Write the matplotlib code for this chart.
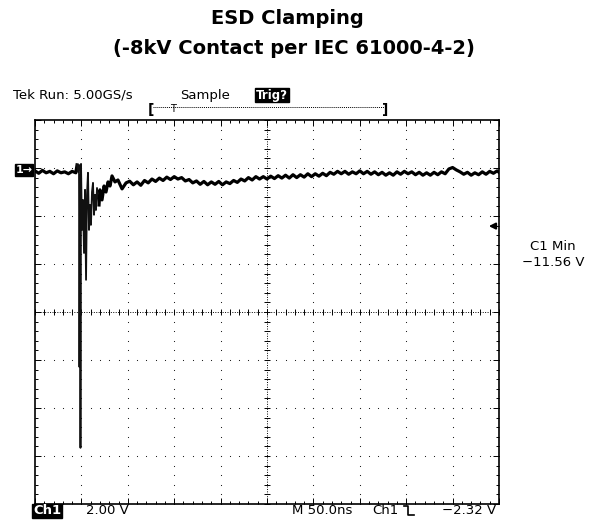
import numpy as np
import matplotlib
matplotlib.use('Agg')
import matplotlib.pyplot as plt
from matplotlib.lines import Line2D

plt.rcParams['font.family'] = ['DejaVu Sans']

# ============================================
# DATA
# ============================================
# Ch1 trace: time in ns (50 ns/div), voltage in V (2 V/div)
time_ns = [0, 4, 8, 12, 16, 20, 24, 28, 32, 36, 40, 44,
           45.3, 46.3, 47.4, 47.9, 48.5, 49.0, 49.6, 50.6, 51.7, 52.8, 53.9, 55.0,
           56.0, 57.1, 58.2, 59.3, 60.3, 61.4, 62.5, 63.6, 64.7, 65.7, 66.8,
           69.0, 70.0, 72.2, 74.4, 76.5, 78.7, 80.8, 83.0, 86.2, 89.4, 93.8, 98.1,
           102, 106, 110, 114, 118, 122, 126, 130, 134, 138, 142, 146, 150, 154,
           158, 162, 166, 170, 174, 178, 182, 186, 190, 194, 198, 202, 206, 210,
           214, 218, 222, 226, 230, 234, 238, 242, 246, 250, 254, 258, 262, 266,
           270, 274, 278, 282, 286, 290, 294, 298, 302, 306, 310, 314, 318, 322,
           326, 330, 334, 338, 342, 346, 350, 354, 358, 362, 366, 370, 374, 378,
           382, 386, 390, 394, 398, 402, 406, 410, 414, 418, 422, 426, 430, 434,
           438, 442, 446, 450, 454, 458, 462, 466, 470, 474, 478, 482, 486, 490,
           494, 498, 500]
volts = [-0.02, -0.12, 0.0, -0.10, -0.04, -0.14, -0.02, -0.10, -0.06, -0.14, -0.04, -0.10,
         0.23, -0.06, 0.23, -8.19, -0.19, -11.56, 0.27, -2.48, -1.23, -3.44, -0.81, -4.56,
         -1.02, -0.10, -2.48, -1.44, -2.27, -0.90, -0.52, -1.85, -1.02, -1.65, -0.73,
         -1.44, -0.81, -1.23, -0.65, -0.90, -0.48, -0.65, -0.23, -0.48, -0.40, -0.77, -0.52,
         -0.45, -0.60, -0.48, -0.62, -0.42, -0.52, -0.36, -0.46, -0.32, -0.42, -0.28, -0.38,
         -0.26, -0.36, -0.30, -0.44, -0.38, -0.52, -0.44, -0.58, -0.46, -0.60, -0.48, -0.58,
         -0.46, -0.60, -0.48, -0.55, -0.42, -0.50, -0.36, -0.44, -0.30, -0.40, -0.26, -0.36,
         -0.26, -0.36, -0.24, -0.34, -0.22, -0.32, -0.20, -0.32, -0.18, -0.30, -0.18, -0.28,
         -0.14, -0.26, -0.14, -0.24, -0.12, -0.22, -0.08, -0.16, -0.04, -0.14, -0.04, -0.16,
         -0.06, -0.14, -0.02, -0.14, -0.04, -0.16, -0.06, -0.18, -0.08, -0.20, -0.10, -0.20,
         -0.06, -0.16, -0.04, -0.14, -0.06, -0.18, -0.08, -0.20, -0.10, -0.20, -0.08, -0.18,
         -0.06, -0.14, 0.06, 0.12, 0.02, -0.06, -0.16, -0.08, -0.20, -0.10, -0.18, -0.06,
         -0.16, -0.04, -0.12, -0.02, -0.08]

trigger_level = -2.32   # V
c1_min = -11.56         # V
volts_per_div = 2.0
ns_per_div = 50.0

# screen: 10 x 8 divisions
y_top = 2.1
y_bottom = y_top - 8 * volts_per_div
x_right = 10 * ns_per_div

# ============================================
# FIGURE
# ============================================
W, H = 595, 520
fig = plt.figure(figsize=(W / 100, H / 100), dpi=100)
ax = fig.add_axes([35 / W, 1 - 504 / H, 464 / W, 384 / H])
ax.set_xlim(0, x_right)
ax.set_ylim(y_bottom, y_top)

# graticule dots
x_major = [k * ns_per_div for k in range(11)]
y_major = [y_bottom + k * volts_per_div for k in range(9)]
x_minor = [k * ns_per_div / 5 for k in range(51)]
y_minor = [y_bottom + k * volts_per_div / 5 for k in range(41)]
dot = dict(ls='', marker='s', ms=0.75, mew=0, color='#222222')
for xm in x_major[1:-1]:
    if xm == x_major[5]:
        continue
    ax.plot([xm] * len(y_minor), y_minor, **dot)
for ym in y_major[1:-1]:
    if ym == y_major[4]:
        continue
    ax.plot(x_minor, [ym] * len(x_minor), **dot)

# center crosshair with ticks
ax.axvline(x_major[5], ls=(0, (1, 1.5)), lw=0.7, color='k')
ax.axhline(y_major[4], ls=(0, (1, 1.5)), lw=0.7, color='k')
ax.plot([x_major[5]] * len(y_minor), y_minor, ls='', marker='_', ms=4, mew=0.7, color='k')
ax.plot(x_minor, [y_major[4]] * len(x_minor), ls='', marker='|', ms=4, mew=0.7, color='k')

# frame ticks
ax.set_xticks(x_major)
ax.set_yticks(y_major)
ax.set_xticks(x_minor, minor=True)
ax.set_yticks(y_minor, minor=True)
ax.tick_params(which='both', direction='in', top=True, right=True,
               labelbottom=False, labelleft=False, width=0.7)
ax.tick_params(which='major', length=4)
ax.tick_params(which='minor', length=2.5)
for sp in ax.spines.values():
    sp.set_linewidth(1.2)

# trace: thick noisy band, the ringing part drawn thinner like the scope's fast edges
ring_start, ring_end = 12, 35
ax.plot(time_ns[:ring_start + 1], volts[:ring_start + 1], color='black', lw=2.3)
ax.plot(time_ns[ring_start:ring_end + 1], volts[ring_start:ring_end + 1],
        color='#111111', lw=1.3)
ax.plot(time_ns[ring_end:], volts[ring_end:], color='black', lw=2.3)

# trigger level arrow on right edge
ax.annotate('', xy=(486, trigger_level), xytext=(x_right, trigger_level),
            arrowprops=dict(arrowstyle='-|>', color='k', lw=1.5, mutation_scale=9))

# ============================================
# TEXT
# ============================================
def px(x, y):
    return x / W, 1 - y / H

fig.text(*px(287, 18), 'ESD Clamping', ha='center', va='center',
         fontsize=14, weight='bold')
fig.text(*px(294, 48), '(-8kV Contact per IEC 61000-4-2)', ha='center', va='center',
         fontsize=14, weight='bold')

fig.text(*px(13, 95), 'Tek Run: 5.00GS/s', ha='left', va='center', fontsize=9.5)
fig.text(*px(180, 95), 'Sample', ha='left', va='center', fontsize=9.5)
fig.text(*px(272, 95), 'Trig?', ha='center', va='center', fontsize=8.5, weight='bold',
         color='white', bbox=dict(boxstyle='square,pad=0.05', fc='black', ec='black'))

# record bar
fig.add_artist(Line2D([153 / W, 384 / W], [1 - 107 / H] * 2, ls=(0, (1, 1)), lw=0.7, color='k'))
fig.text(*px(151, 110), '[', ha='center', va='center', fontsize=10, weight='bold')
fig.text(*px(385, 110), ']', ha='center', va='center', fontsize=10, weight='bold')
fig.text(*px(173, 109), 'T', ha='center', va='center', fontsize=7)

# channel 1 ground marker
fig.text(*px(24, 170), '1\u2192', ha='center', va='center', fontsize=8, weight='bold',
         color='white', bbox=dict(boxstyle='square,pad=0.08', fc='black', ec='black'))

# measurement readout
fig.text(*px(553, 247), 'C1 Min', ha='center', va='center', fontsize=9.5)
fig.text(*px(553, 262), f'\u2212{abs(c1_min):.2f} V', ha='center', va='center', fontsize=9.5)

# bottom status line
fig.text(*px(47, 511), 'Ch1', ha='center', va='center', fontsize=9.5, weight='bold',
         color='white', bbox=dict(boxstyle='square,pad=0.05', fc='black', ec='black'))
fig.text(*px(86, 511), f'{volts_per_div:.2f} V', ha='left', va='center', fontsize=9.5)
fig.text(*px(292, 511), f'M {ns_per_div:.1f}ns', ha='left', va='center', fontsize=9.5)
fig.text(*px(372, 511), 'Ch1', ha='left', va='center', fontsize=9.5)
fig.add_artist(Line2D([404 / W, 408 / W, 408 / W, 414 / W],
                      [1 - 506 / H, 1 - 506 / H, 1 - 515 / H, 1 - 515 / H],
                      lw=1.2, color='k'))
fig.text(*px(496, 511), f'\u2212{abs(trigger_level):.2f} V', ha='right', va='center', fontsize=9.5)

fig.savefig('out.png', dpi=100)
